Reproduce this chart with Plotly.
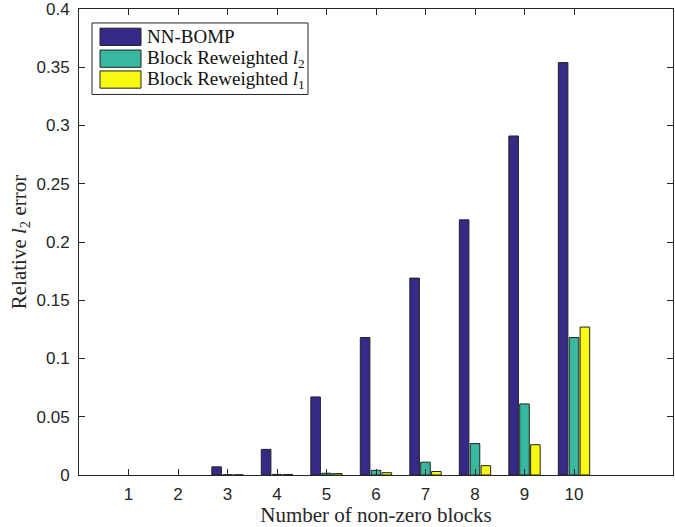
import plotly.graph_objects as go

categories = [1, 2, 3, 4, 5, 6, 7, 8, 9, 10]
nn_bomp = [0.0, 0.0, 0.007, 0.022, 0.067, 0.118, 0.169, 0.219, 0.291, 0.354]
block_rw_l2 = [0.0, 0.0, 0.0003, 0.0005, 0.0015, 0.004, 0.011, 0.027, 0.061, 0.118]
block_rw_l1 = [0.0, 0.0, 0.0002, 0.0004, 0.0012, 0.002, 0.003, 0.008, 0.026, 0.127]
series_names = ["NN-BOMP", "Block Reweighted <i>l</i><sub>2</sub>", "Block Reweighted <i>l</i><sub>1</sub>"]
colors = ["#352a87", "#38b99f", "#f7f90f"]
y_ticks = [0, 0.05, 0.1, 0.15, 0.2, 0.25, 0.3, 0.35, 0.4]
y_tick_labels = ["0", "0.05", "0.1", "0.15", "0.2", "0.25", "0.3", "0.35", "0.4"]

fig = go.Figure()
for name, vals, c in zip(series_names, [nn_bomp, block_rw_l2, block_rw_l1], colors):
    shown = [v if v > 0 else None for v in vals]
    fig.add_trace(go.Bar(x=categories, y=shown, name=name, marker=dict(color=c, line=dict(color="#222222", width=1)),
                         showlegend=False))

serif = "Liberation Serif"
sans = "Liberation Sans"

fig.update_layout(
    width=675, height=527,
    margin=dict(l=79, r=2, t=9, b=52),
    paper_bgcolor="white", plot_bgcolor="white",
    barmode="group", bargap=0.34, bargroupgap=0.12,
    xaxis=dict(range=[0, 12], tickvals=categories, ticktext=[str(c) for c in categories],
               ticks="inside", ticklen=6, tickcolor="#262626", showline=True, linecolor="#262626",
               linewidth=1, mirror="ticks", showgrid=False, zeroline=False, automargin=False,
               tickfont=dict(family=sans, size=17, color="#262626"), ticklabelstandoff=4,
               ticklabeloverflow="allow",
               title=dict(text="Number of non-zero blocks", font=dict(family=serif, size=21, color="#262626"), standoff=2)),
    yaxis=dict(range=[0, 0.4], tickvals=y_ticks, ticktext=y_tick_labels,
               ticks="inside", ticklen=6, tickcolor="#262626", showline=True, linecolor="#262626",
               linewidth=1, mirror="ticks", showgrid=False, zeroline=False, automargin=False,
               tickfont=dict(family=sans, size=17, color="#262626"), ticklabelstandoff=5,
               ticklabeloverflow="allow",
               title=dict(text="Relative <i>l</i><sub>2</sub> error", font=dict(family=serif, size=21, color="#262626"), standoff=4)),
)

# custom legend box (MATLAB style)
fig.add_shape(type="rect", xref="paper", yref="paper", x0=0.0219, x1=0.3855, y0=0.8166, y1=0.970,
              line=dict(color="#262626", width=1), fillcolor="white", layer="above")
row_y = [0.9403, 0.8934, 0.8486]
for name, c, yy in zip(series_names, colors, row_y):
    fig.add_shape(type="rect", xref="paper", yref="paper", x0=0.0354, x1=0.1044, y0=yy - 0.0185, y1=yy + 0.0185,
                  line=dict(color="#222222", width=1), fillcolor=c, layer="above")
    fig.add_annotation(xref="paper", yref="paper", x=0.111, y=yy, text=name, showarrow=False,
                       xanchor="left", yanchor="middle", font=dict(family=serif, size=19, color="#111111"))

fig.write_html("out.html", config={"displayModeBar": False},
               post_script="document.body.style.margin='0';")
